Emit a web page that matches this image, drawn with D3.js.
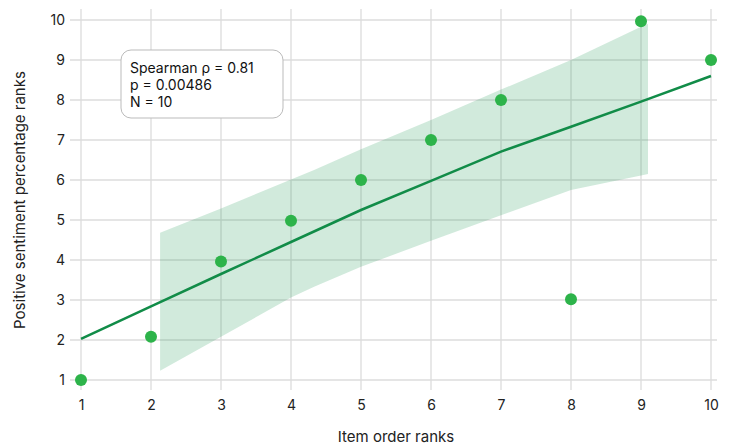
<!DOCTYPE html>
<html><head><meta charset="utf-8">
<script src="https://cdn.jsdelivr.net/npm/d3@7"></script>
<style>body{margin:0;background:#fff}svg{display:block;font-family:Inter,"Open Sans",sans-serif}</style>
</head><body><svg id="c" width="734" height="445"></svg>
<script>
const itemRanks = [1,2,3,4,5,6,7,8,9,10];
const sentimentRanks = [1,2.08,3.96,4.98,6,7,8,3.02,9.97,9];
const fitX = [1,2,3,4,5,6,7,8,9,10];
const fitY = [2.03,2.84,3.65,4.45,5.25,5.98,6.71,7.33,7.96,8.6];
const bandX = [2.13,3,4,4.33,5,6,7,8,9,9.1];
const bandUpper = [4.68,5.29,6.01,6.25,6.77,7.5,8.26,9.0,9.83,9.9];
const bandLower = [1.23,2.08,3.06,3.33,3.83,4.48,5.12,5.75,6.11,6.15];
const xTicks = [1,2,3,4,5,6,7,8,9,10];
const yTicks = [1,2,3,4,5,6,7,8,9,10];
const statLines = ["Spearman \u03c1 = 0.81","p = 0.00486","N = 10"];

const svg = d3.select("#c");
const x = d3.scaleLinear().domain([1,10]).range([81,711]);
const y = d3.scaleLinear().domain([1,10]).range([380,20]);
const xMin = x.invert(70), xMax = x.invert(717), yMin = y.invert(390), yMax = y.invert(9);

const g = svg.append("g");
// grid
g.selectAll(".vg").data(xTicks).enter().append("line")
  .attr("x1",d=>x(d)).attr("x2",d=>x(d)).attr("y1",y(yMin)).attr("y2",y(yMax))
  .attr("stroke","#dcdcdc").attr("stroke-width",1.3);
g.selectAll(".hg").data(yTicks).enter().append("line")
  .attr("y1",d=>y(d)).attr("y2",d=>y(d)).attr("x1",x(xMin)).attr("x2",x(xMax))
  .attr("stroke","#dcdcdc").attr("stroke-width",1.3);

// band
const band = bandX.map((d,i)=>({x:d,lo:bandLower[i],hi:bandUpper[i]}));
g.append("path").datum(band)
  .attr("d",d3.area().x(d=>x(d.x)).y0(d=>y(d.lo)).y1(d=>y(d.hi)))
  .attr("fill","rgb(26,150,80)").attr("fill-opacity",0.2);

// fit line
g.append("path").datum(fitX.map((d,i)=>[d,fitY[i]]))
  .attr("d",d3.line().x(d=>x(d[0])).y(d=>y(d[1])))
  .attr("fill","none").attr("stroke","#118c48").attr("stroke-width",2.5);

// points
g.selectAll("circle").data(itemRanks.map((d,i)=>[d,sentimentRanks[i]])).enter().append("circle")
  .attr("cx",d=>x(d[0])).attr("cy",d=>y(d[1])).attr("r",6).attr("fill","#2db34a");

// axes
const xa = svg.append("g").attr("transform","translate(0,392)")
  .call(d3.axisBottom(x).tickValues(xTicks).tickSize(0).tickPadding(8));
const ya = svg.append("g").attr("transform","translate(70,0)")
  .call(d3.axisLeft(y).tickValues(yTicks).tickSize(0).tickPadding(5));
[xa,ya].forEach(a=>{a.select(".domain").remove();a.selectAll("text").attr("font-size",14).attr("fill","#222").attr("font-family","Inter,'Open Sans',sans-serif");});

svg.append("text").attr("x",396).attr("y",442).attr("text-anchor","middle")
  .attr("font-size",15).attr("fill","#222").text("Item order ranks");
svg.append("text").attr("transform","translate(25,200) rotate(-90)").attr("text-anchor","middle")
  .attr("font-size",15).attr("fill","#222").text("Positive sentiment percentage ranks");

// stats box
svg.append("rect").attr("x",121).attr("y",50).attr("width",162).attr("height",68).attr("rx",10)
  .attr("fill","#fff").attr("stroke","#bbb").attr("stroke-width",1);
svg.append("g").selectAll("text").data(statLines).enter().append("text")
  .attr("x",130).attr("y",(d,i)=>73+i*17).attr("font-size",14).attr("fill","#111").text(d=>d);
</script></body></html>
